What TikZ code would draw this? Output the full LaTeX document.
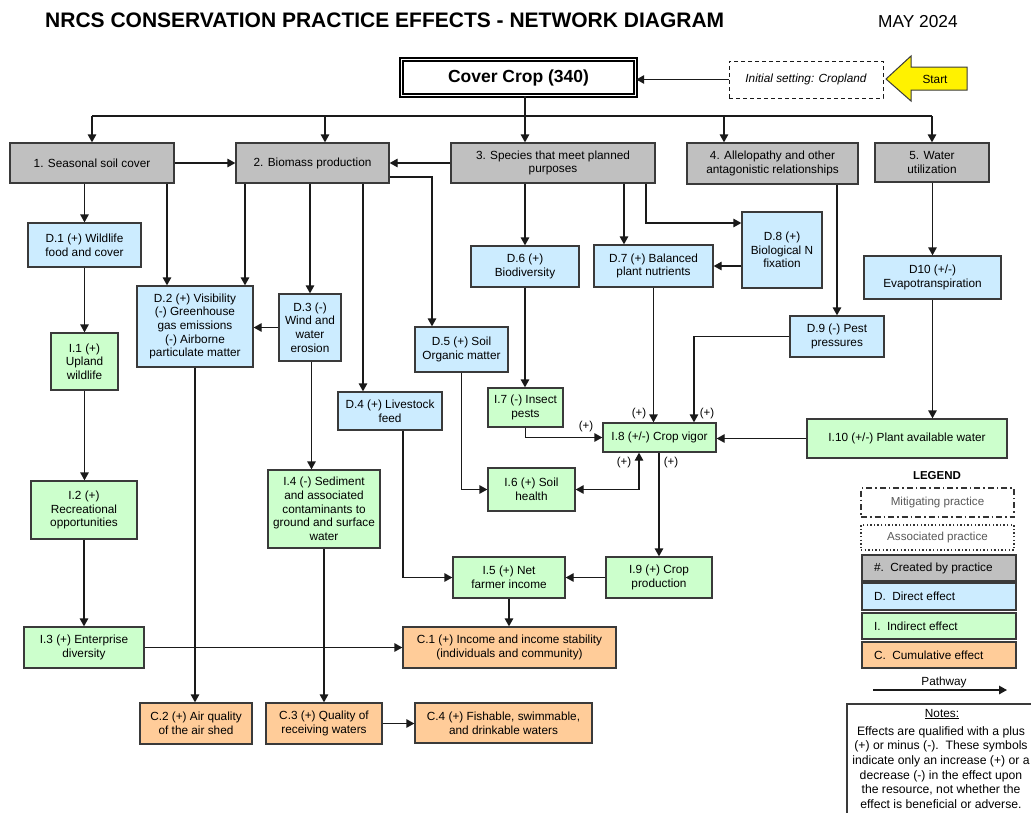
\documentclass[tikz,border=0pt]{standalone}
\usepackage{fontspec}
\setmainfont{Liberation Sans}
\usetikzlibrary{arrows.meta,calc}
\definecolor{cgray}{HTML}{C0C0C0}
\definecolor{cblue}{HTML}{CCECFF}
\definecolor{cgreen}{HTML}{CCFFCC}
\definecolor{corange}{HTML}{FFCC99}
\definecolor{cline}{HTML}{1A1A1A}
\definecolor{cborder}{HTML}{3A3A3A}
\newcommand\mybox[7]{\node[#1,minimum width=#5pt,minimum height=#6pt] (#2) at (#3,#4) {#7};}
\begin{document}
\begin{tikzpicture}[x=1pt,y=-1pt,
  box/.style={draw=cborder, line width=1.3pt, inner sep=0pt, align=center, font=\fontsize{11.8}{13.7}\selectfont},
  gbox/.style={box, fill=cgray},
  bbox/.style={box, fill=cblue},
  ibox/.style={box, fill=cgreen},
  cbox/.style={box, fill=corange},
  ln/.style={draw=cline, line width=1.3pt},
  arr/.style={draw=cline, line width=1.3pt, -{Triangle[length=8pt,width=8.5pt]}},
  darr/.style={draw=cline, line width=1.3pt, {Triangle[length=8pt,width=8.5pt]}-{Triangle[length=8pt,width=8.5pt]}},
  lbl/.style={font=\fontsize{11.5}{13}\selectfont, inner sep=0pt},
  txt/.style={font=\fontsize{11.8}{13.7}\selectfont, inner sep=0pt, align=center}]
\useasboundingbox (0,0) rectangle (1031,812);
\fill[white] (0,0) rectangle (1031,812);

% title
\node[anchor=base west, inner sep=0pt, font=\bfseries\fontsize{21}{24}\selectfont] (title) at (45,27) {NRCS CONSERVATION PRACTICE EFFECTS - NETWORK DIAGRAM};
\node[anchor=base west, inner sep=0pt, font=\fontsize{17.3}{20}\selectfont] (date) at (878,27) {MAY 2024};

% top
\node[draw=black, double, double distance=1.6pt, line width=1.4pt, inner sep=0pt, minimum width=234pt, minimum height=36pt, font=\bfseries\fontsize{17.5}{20}\selectfont] (cover) at (518.5,77.5) {Cover Crop (340)};
\node[draw=cline, dash pattern=on 4pt off 3pt, line width=1pt, inner sep=0pt, minimum width=154pt, minimum height=37pt, font=\itshape\fontsize{11.8}{13.7}\selectfont] (init) at (806,79.5) {Initial setting: Cropland};
\draw[fill=yellow, draw=cborder, line width=1pt] (886,79) -- (911,56) -- (911,67) -- (967,67) -- (967,90) -- (911,90) -- (911,101) -- cycle;
\node[txt] (start) at (935,79) {Start};

% row 1
\mybox{gbox}{g1}{92}{163}{164}{40}{1. Seasonal soil cover}
\mybox{gbox}{g2}{312.5}{163}{153}{40}{2. Biomass production}
\mybox{gbox}{g3}{553}{163}{204}{40}{3. Species that meet planned\\purposes}
\mybox{gbox}{g4}{772.5}{163.5}{171}{41}{4. Allelopathy and other\\antagonistic relationships}
\mybox{gbox}{g5}{932}{162.5}{114}{39}{5. Water\\utilization}

% direct effects
\mybox{bbox}{D1}{84.5}{245}{113}{44}{D.1 (+) Wildlife\\food and cover}
\mybox{bbox}{D2}{195}{326.5}{116}{81}{D.2 (+) Visibility\\(-) Greenhouse\\gas emissions\\(-) Airborne\\particulate matter}
\mybox{bbox}{D3}{310}{327.5}{62}{67}{D.3 (-)\\Wind and\\water\\erosion}
\mybox{bbox}{D4}{390}{411}{104}{38}{D.4 (+) Livestock\\feed}
\mybox{bbox}{D5}{461.5}{349.5}{93}{45}{D.5 (+) Soil\\Organic matter}
\mybox{bbox}{D6}{525}{266.5}{108}{41}{D.6 (+)\\Biodiversity}
\mybox{bbox}{D7}{653.5}{266}{119}{42}{D.7 (+) Balanced\\plant nutrients}
\mybox{bbox}{D8}{782}{250}{80}{76}{D.8 (+)\\Biological N\\fixation}
\mybox{bbox}{D9}{837}{336.5}{94}{41}{D.9 (-) Pest\\pressures}
\mybox{bbox}{D10}{932.5}{277.5}{137}{43}{D10 (+/-)\\Evapotranspiration}

% indirect effects
\mybox{ibox}{I1}{84.5}{361.5}{67}{57}{I.1 (+)\\Upland\\wildlife}
\mybox{ibox}{I2}{84}{510}{106}{58}{I.2 (+)\\Recreational\\opportunities}
\mybox{ibox}{I3}{84}{647.5}{120}{41}{I.3 (+) Enterprise\\diversity}
\mybox{ibox}{I4}{324}{509}{112}{78}{I.4 (-) Sediment\\and associated\\contaminants to\\ground and surface\\water}
\mybox{ibox}{I5}{509}{577.5}{112}{41}{I.5 (+) Net\\farmer income}
\mybox{ibox}{I6}{531.5}{489.5}{87}{43}{I.6 (+) Soil\\health}
\mybox{ibox}{I7}{525.5}{407.5}{75}{39}{I.7 (-) Insect\\pests}
\mybox{ibox}{I8}{659.5}{437.5}{113}{29}{I.8 (+/-) Crop vigor}
\mybox{ibox}{I9}{659}{577.5}{106}{41}{I.9 (+) Crop\\production}
\mybox{ibox}{I10}{907}{438.5}{200}{39}{I.10 (+/-) Plant available water}

% cumulative effects
\mybox{cbox}{C1}{509.5}{647.5}{213}{41}{C.1 (+) Income and income stability\\(individuals and community)}
\mybox{cbox}{C2}{196}{723.5}{112}{41}{C.2 (+) Air quality\\of the air shed}
\mybox{cbox}{C3}{324}{723.5}{116}{41}{C.3 (+) Quality of\\receiving waters}
\mybox{cbox}{C4}{503.5}{723}{177}{40}{C.4 (+) Fishable, swimmable,\\and drinkable waters}

% connectors top
\draw[arr] (init.west) -- (init.west -| cover.east);
\draw[arr] ([xshift=6.5pt]cover.south) -- ([xshift=-28pt]g3.north);
\coordinate (bus) at (525,116);
\draw[ln] (bus -| g1.north) -- (bus -| g5.north);
\draw[arr] (bus -| g1.north) -- (g1.north);
\path ([xshift=12.5pt]g2.north) coordinate (g2n);
\draw[arr] (bus -| g2n) -- (g2n);
\path ([xshift=-48.5pt]g4.north) coordinate (g4n);
\draw[arr] (bus -| g4n) -- (g4n);
\draw[arr] (bus -| g5.north) -- (g5.north);

\draw[arr] (g1.east) -- (g2.west);
\draw[arr] (g3.west) -- (g2.east);

% from row 1
\draw[arr] ([yshift=-14pt]g2.east) -| ([xshift=-29.5pt]D5.north);
\draw[arr] (g1.south -| D1.north) -- (D1.north);
\path ([xshift=-28pt]D2.north) coordinate (d2a);
\draw[arr] (g1.south -| d2a) -- (d2a);
\path ([xshift=50pt]D2.north) coordinate (d2b);
\draw[arr] (g2.south -| d2b) -- (d2b);
\draw[arr] (g2.south -| D3.north) -- (D3.north);
\path ([xshift=-27pt]D4.north) coordinate (d4a);
\draw[arr] (g2.south -| d4a) -- (d4a);
\draw[arr] (g3.south -| D6.north) -- (D6.north);
\path ([xshift=-29.5pt]D7.north) coordinate (d7a);
\draw[arr] (g3.south -| d7a) -- (d7a);
\draw[arr] ([xshift=93pt]g3.south) |- ([yshift=27pt]D8.west);
\draw[arr] (D8.west |- D7.east) -- (D7.east);
\draw[arr] (g4.south -| D9.north) -- (D9.north);
\draw[arr] (g5.south -| D10.north) -- (D10.north);

% middle
\draw[arr] (D10.south) -- (D10.south |- I10.north);
\draw[arr] (D9.west) -| ([xshift=34.5pt]I8.north);
\draw[arr] (D7.south) -- (D7.south |- I8.north);
\draw[arr] (I10.west) -- (I10.west -| I8.east);
\draw[arr] (D6.south) -- (D6.south |- I7.north);
\draw[arr] (I7.south) |- (I8.west);
\draw[arr] (I8.south -| I9.north) -- (I9.north);
\draw[darr] (I6.east) -| ([xshift=-20.5pt]I8.south);
\draw[arr] (D5.south) |- (I6.west);

% left column
\draw[arr] (D1.south) -- (D1.south |- I1.north);
\draw[arr] (I1.south) -- (I1.south |- I2.north);
\draw[arr] (I2.south) -- (I2.south |- I3.north);
\draw[arr] (I3.east) -- (C1.west);
\draw[arr] (D2.south) -- (D2.south |- C2.north);
\draw[arr] (D3.west) -- (D3.west -| D2.east);
\draw[arr] ([xshift=1.5pt]D3.south) -- ([xshift=1.5pt]D3.south |- I4.north);
\draw[arr] (I4.south) -- (C3.north);
\draw[arr] (C3.east) -- (C3.east -| C4.west);
\draw[arr] ([xshift=13pt]D4.south) |- (I5.west);
\draw[arr] (I5.south) -- (I5.south |- C1.north);
\draw[arr] (I9.west) -- (I9.west -| I5.east);

% (+) labels
\node[lbl] (p1) at (586,427) {(+)};
\node[lbl] (p2) at (639,414) {(+)};
\node[lbl] (p3) at (707,414) {(+)};
\node[lbl] (p4) at (624,463) {(+)};
\node[lbl] (p5) at (671,463) {(+)};

% legend
\node[inner sep=0pt, font=\bfseries\fontsize{11.5}{13}\selectfont] (legend) at (937,476) {LEGEND};
\node[draw=black!80, line width=1.4pt, dash pattern=on 6pt off 3pt on 1.5pt off 3pt, inner sep=0pt, minimum width=153pt, minimum height=29pt, text=black!65, font=\fontsize{11.6}{13}\selectfont] (lmit) at (937.5,502.5) {Mitigating practice};
\node[draw=black!80, line width=1.6pt, dash pattern=on 1.4pt off 2.2pt, inner sep=0pt, minimum width=153pt, minimum height=25pt, text=black!65, font=\fontsize{11.6}{13}\selectfont] (lass) at (937.5,537.5) {Associated practice};
\node[gbox, minimum width=154pt, minimum height=26pt] (lcre) at (939,568) {\makebox[130pt][l]{\#.\ \ Created by practice}};
\node[bbox, minimum width=154pt, minimum height=27pt] (ldir) at (939,596.5) {\makebox[130pt][l]{D.\ \ Direct effect}};
\node[ibox, minimum width=154pt, minimum height=26pt] (lind) at (939,626) {\makebox[130pt][l]{I.\ \ Indirect effect}};
\node[cbox, minimum width=154pt, minimum height=26pt] (lcum) at (939,655) {\makebox[130pt][l]{C.\ \ Cumulative effect}};
\node[txt] (pathlbl) at (944,682) {Pathway};
\coordinate (pa) at (873,690);
\coordinate (pb) at (1007,690);
\draw[arr] (pa) -- (pb);

% notes
\node[draw=cborder, line width=1.2pt, inner sep=0pt, minimum width=200pt, minimum height=130pt] (notes) at (947,769) {};
\node[txt] (notestitle) at (942,714) {\underline{Notes:}};
\node[inner sep=0pt, align=center, font=\fontsize{12.2}{14.7}\selectfont] (notestxt) at (941,767.5) {Effects are qualified with a plus\\(+) or minus (-).\ \ These symbols\\indicate only an increase (+) or a\\decrease (-) in the effect upon\\the resource, not whether the\\effect is beneficial or adverse.};
\end{tikzpicture}
\end{document}
